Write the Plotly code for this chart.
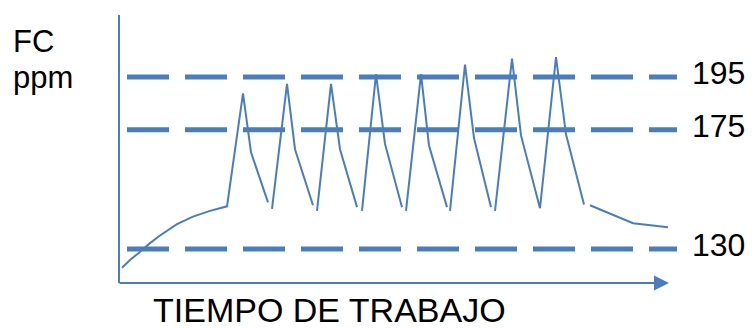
import plotly.graph_objects as go

# Heart-rate response (ppm) during interval work, arbitrary time units.
# Each list is one continuous stretch of the trace; stretches are drawn apart.
segments_t = [
    [2, 10, 19, 30, 40, 57, 73, 90, 107, 123, 131, 148],
    [152, 167, 175, 193],
    [197, 211, 220, 237],
    [242, 256, 265, 282],
    [286, 301, 309, 327],
    [330, 345, 354, 371],
    [375, 392, 401, 420, 436, 446, 464],
    [470, 513, 548],
]
segments_fc = [
    [122.9, 125.8, 128.6, 132.2, 135.1, 139.4, 142.2, 144.4, 146.1, 188.8, 166.5, 147.6],
    [145.1, 192.4, 167.7, 146.5],
    [144.4, 192.4, 167.7, 145.8],
    [144.4, 196.1, 169.7, 145.8],
    [144.4, 196.1, 169.1, 145.8],
    [144.4, 199.7, 171.9, 145.8],
    [144.4, 201.9, 172.9, 145.4, 202.5, 173.3, 146.8],
    [146.5, 139.7, 138.2],
]

# Reference heart-rate levels
levels = [195, 175, 130]
level_labels = ["195", "175", "130"]
level_span = [7, 557]

x_title = "TIEMPO DE TRABAJO"
y_title_lines = ["FC", "ppm"]

BLUE = "#4A7EBB"
FONT = "Liberation Sans, Arial, sans-serif"

x_range = [0, 580]
y_range = [117.13, 218.41]

# Plot area in pixels (left, right, top, bottom)
L, R, T, B = 120, 700, 15, 283


def paper_x(px):
    return (px - L) / (R - L)


def paper_y(py):
    return (B - py) / (B - T)


# Join the stretches with None so the gaps stay open
trace_t, trace_fc = [], []
for ts, fs in zip(segments_t, segments_fc):
    trace_t += ts + [None]
    trace_fc += fs + [None]

fig = go.Figure()

for lvl in levels:
    fig.add_trace(go.Scatter(
        x=level_span, y=[lvl, lvl], mode="lines",
        line=dict(color=BLUE, width=5, dash="42px,16px"),
        hoverinfo="skip",
    ))

fig.add_trace(go.Scatter(
    x=trace_t, y=trace_fc, mode="lines", connectgaps=False,
    line=dict(color=BLUE, width=2),
))

annotations = []
for lvl, lab in zip(levels, level_labels):
    annotations.append(dict(
        x=570, y=lvl, xref="x", yref="y", text=lab, showarrow=False,
        xanchor="left", yanchor="middle", yshift=4,
        font=dict(family=FONT, size=32, color="black"),
    ))

# Time axis drawn as an arrow
annotations.append(dict(
    x=549, y=y_range[0], ax=-2, ay=y_range[0], xref="x", yref="y",
    axref="x", ayref="y", text="", showarrow=True,
    arrowhead=2, arrowsize=1.5, arrowwidth=2, arrowcolor=BLUE, standoff=0,
))

annotations.append(dict(
    x=paper_x(329), y=paper_y(310), xref="paper", yref="paper", text=x_title,
    showarrow=False, xanchor="center", yanchor="middle",
    font=dict(family=FONT, size=34, color="black"),
))

for line, py in zip(y_title_lines, [41.5, 77.5]):
    annotations.append(dict(
        x=paper_x(12), y=paper_y(py), xref="paper", yref="paper", text=line,
        showarrow=False, xanchor="left", yanchor="middle", borderpad=0,
        font=dict(family=FONT, size=31, color="black"),
    ))

fig.update_layout(
    width=752, height=329,
    margin=dict(l=L, r=752 - R, t=T, b=329 - B),
    paper_bgcolor="white", plot_bgcolor="white",
    showlegend=False,
    annotations=annotations,
    xaxis=dict(range=x_range, visible=False),
    yaxis=dict(range=y_range, showline=True, linewidth=2, linecolor=BLUE,
               showgrid=False, zeroline=False, showticklabels=False, ticks=""),
)

fig.write_html("out.html")
